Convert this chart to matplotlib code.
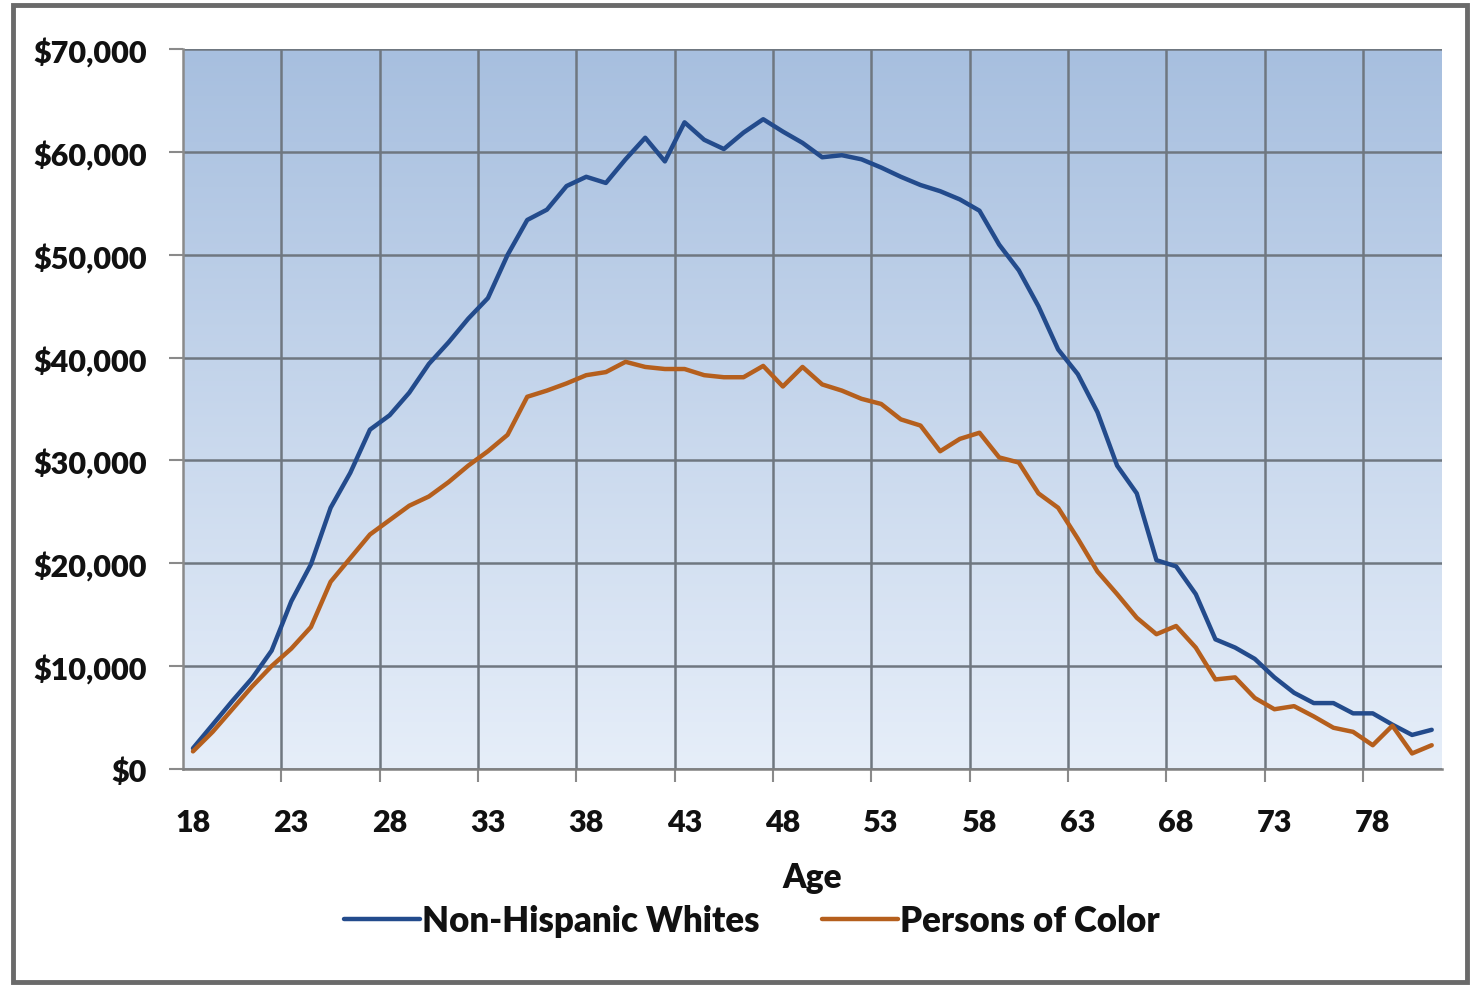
import numpy as np
import matplotlib.pyplot as plt
from matplotlib.ticker import FuncFormatter, FixedLocator
from matplotlib.colors import LinearSegmentedColormap
from matplotlib.patches import Rectangle

plt.rcParams['font.family'] = ['Lato', 'DejaVu Sans']

# median income by single year of age
ages = np.arange(18, 82)

whites = [2000, 4300, 6600, 8800, 11500, 16300, 19900, 25400, 28800, 33000,
          34400, 36600, 39400, 41500, 43800, 45800, 50000, 53400, 54400, 56700,
          57600, 57000, 59300, 61400, 59100, 62900, 61200, 60300, 61900, 63200,
          62000, 60900, 59500, 59700, 59300, 58500, 57600, 56800, 56200, 55400,
          54300, 51000, 48500, 45000, 40800, 38400, 34700, 29500, 26800, 20300,
          19700, 17000, 12600, 11800, 10700, 8900, 7400, 6400, 6400, 5400,
          5400, 4300, 3300, 3800]

color = [1700, 3600, 5800, 8000, 10000, 11700, 13800, 18200, 20500, 22800,
         24200, 25600, 26500, 27900, 29500, 30900, 32500, 36200, 36800, 37500,
         38300, 38600, 39600, 39100, 38900, 38900, 38300, 38100, 38100, 39200,
         37200, 39100, 37400, 36800, 36000, 35500, 34000, 33400, 30900, 32100,
         32700, 30300, 29800, 26800, 25400, 22400, 19200, 17000, 14700, 13100,
         13900, 11800, 8700, 8900, 6900, 5800, 6100, 5100, 4000, 3600,
         2300, 4200, 1500, 2300]

series_names = ['Non-Hispanic Whites', 'Persons of Color']
series_colors = ['#234b8c', '#b55f1d']

fig = plt.figure(figsize=(14.77, 9.87), dpi=100)
fig.patch.set_facecolor('white')
ax = fig.add_axes([0.124, 0.22, 0.852, 0.729])

x = np.arange(len(ages))
ax.set_xlim(-0.5, len(ages) - 0.5)
ax.set_ylim(0, 70000)

# vertical gradient fill of the plot area
grad = LinearSegmentedColormap.from_list('bg', ['#e6eef9', '#a7bfdf'])
ax.imshow(np.linspace(0, 1, 256).reshape(-1, 1), cmap=grad, aspect='auto',
          extent=(0, 1, 0, 1), transform=ax.transAxes, origin='lower', zorder=0)

for vals, name, c in zip([whites, color], series_names, series_colors):
    ax.plot(x, vals, color=c, lw=3.2, label=name, zorder=3,
            solid_joinstyle='round', solid_capstyle='round')

# category labels every 5 years, gridlines on the category boundaries
ax.xaxis.set_major_locator(FixedLocator(x[::5]))
ax.set_xticklabels([str(a) for a in ages[::5]])
ax.xaxis.set_minor_locator(FixedLocator(np.arange(4.5, len(ages) - 1, 5)))
ax.tick_params(axis='x', which='major', length=0, pad=28, labelsize=22)
ax.tick_params(axis='x', which='minor', length=9, width=1.5, color='#8a8a8a', direction='out')
ax.grid(which='minor', axis='x', color='#6f7780', lw=1.8, zorder=1)

ax.set_yticks(np.arange(0, 70001, 10000))
ax.yaxis.set_major_formatter(FuncFormatter(lambda v, p: '${:,.0f}'.format(v)))
ax.tick_params(axis='y', length=10, width=1.5, color='#8a8a8a', pad=16, labelsize=22)
ax.grid(which='major', axis='y', color='#6f7780', lw=1.8, zorder=1)

for lab in ax.get_xticklabels() + ax.get_yticklabels():
    lab.set_fontweight('heavy')
    lab.set_color('#111111')

for side in ['top', 'right']:
    ax.spines[side].set_visible(False)
ax.spines['left'].set_color('#8a8a8a')
ax.spines['left'].set_linewidth(1.8)
ax.spines['bottom'].set_color('#808080')
ax.spines['bottom'].set_linewidth(1.8)

ax.set_xlabel('Age', fontsize=24, fontweight='heavy', color='#111111', labelpad=18)

leg = fig.legend(loc='center', bbox_to_anchor=(0.509, 0.066), ncol=2, frameon=False,
                 fontsize=25, handlelength=2.2, handletextpad=0.05, columnspacing=1.8)
for t in leg.get_texts():
    t.set_fontweight('heavy')
    t.set_color('#111111')

# dark frame around the whole chart
fig.patches.append(Rectangle((0.009, 0.004), 0.984, 0.99, transform=fig.transFigure,
                             fill=False, edgecolor='#6a6a6a', lw=3.5))

fig.savefig('out.png', dpi=100)
